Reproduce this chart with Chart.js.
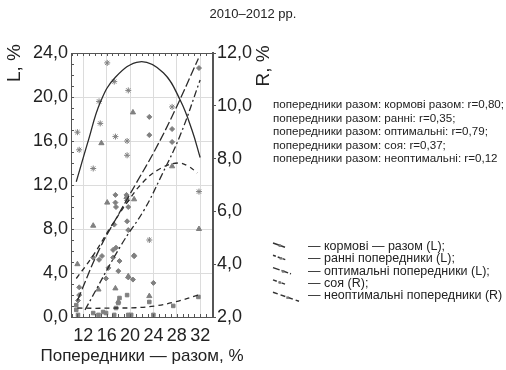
<!DOCTYPE html>
<html>
<head>
<meta charset="utf-8">
<script src="https://cdn.jsdelivr.net/npm/chart.js@4.4.1/dist/chart.umd.min.js"></script>
<style>
  body { margin: 0; width: 506px; height: 370px; position: relative; overflow: hidden; background: #fff;
         font-family: "Liberation Sans", Arial, sans-serif; color: #222; }
  #c { position: absolute; left: 0; top: 0; }
  #title { position: absolute; top: 6px; left: 0; width: 506px; text-align: center; font-size: 13px; }
  #notes { position: absolute; left: 273px; top: 97px; font-size: 11.6px; line-height: 13.5px; white-space: nowrap; }
  #legend { position: absolute; left: 308px; top: 240px; font-size: 12.5px; line-height: 12.3px; white-space: nowrap; }
</style>
</head>
<body>
<canvas id="c" width="506" height="370"></canvas>
<div id="title">2010–2012 рр.</div>
<div id="notes"></div>
<div id="legend"></div>
<script>
// Axis ticks
const xTicks = [12, 16, 20, 24, 28, 32];
const yLeftTicks = [0, 4, 8, 12, 16, 20, 24];
const yRightTicks = [2, 4, 6, 8, 10, 12];

// кормові — разом (L): points and fitted curve
const kormoviX = [11.0, 11.3, 13.7, 16.1, 14.7, 14.9, 17.3, 17.5, 19.7, 19.5, 19.5, 27.2, 31.8, 23.3];
const kormoviL = [16.8, 15.2, 13.5, 23.1, 19.6, 17.6, 21.4, 16.4, 20.6, 16.0, 14.7, 19.1, 11.4, 7.0];
const kormoviFitX = [10.8, 12.9, 14.9, 17.5, 21.7, 25.7, 28.6, 30.6, 32.0];
const kormoviFitL = [12.3, 16.1, 19.5, 21.8, 23.2, 22.2, 19.7, 17.0, 14.5];

// ранні попередники (L)
const ranniX = [15.1, 20.5, 27.2, 16.1, 13.7, 11.0, 14.6, 17.5, 19.7, 20.7, 19.4, 23.3, 31.8, 18.0];
const ranniL = [15.8, 18.6, 13.7, 10.4, 8.3, 4.8, 2.5, 2.6, 3.7, 10.7, 10.9, 1.9, 8.0, 1.4];
const ranniFitX = [10.8, 13.7, 16.6, 19.5, 22.3, 25.2, 28.2, 30.0, 31.5];
const ranniFitL = [3.5, 5.6, 8.1, 10.4, 12.3, 13.5, 14.0, 13.7, 13.1];

// оптимальні попередники (L)
const optX = [17.5, 17.5, 17.6, 19.4, 19.5, 19.7, 19.5, 17.3, 19.7, 17.6, 17.1, 13.7, 14.7, 17.1, 20.7, 15.9, 19.7, 20.5, 24.0, 11.3, 11.1];
const optL = [11.1, 10.4, 10.0, 11.1, 10.6, 10.0, 8.7, 8.4, 7.9, 6.3, 6.1, 5.4, 5.2, 5.4, 5.6, 3.5, 3.6, 3.4, 3.1, 2.7, 1.5];
const optFitX = [11.0, 14.7, 18.0, 21.1, 24.3, 27.7, 31.7];
const optFitL = [1.5, 6.1, 9.3, 12.2, 15.2, 18.8, 23.5];

// соя (R)
const soyaX = [27.2, 27.2, 31.8, 23.3, 23.3, 20.7, 11.3, 18.2, 18.0, 15.2, 16.3];
const soyaR = [9.12, 8.63, 11.43, 9.58, 8.89, 4.30, 2.83, 4.12, 3.74, 4.31, 3.86];
const soyaFitX = [12.3, 18.5, 22.4, 25.2, 28.6, 32.0];
const soyaFitR = [2.27, 4.73, 6.05, 7.27, 8.89, 10.98];

// неоптимальні попередники (R)
const neoptX = [10.8, 10.8, 11.1, 13.7, 14.6, 15.4, 15.9, 17.6, 18.0, 18.2, 17.3, 19.5, 19.7, 20.2, 23.3, 24.0, 27.4, 31.7];
const neoptR = [2.45, 2.27, 2.08, 2.15, 2.08, 2.19, 2.15, 2.34, 2.53, 2.72, 2.08, 2.83, 2.08, 2.08, 2.57, 2.08, 2.42, 2.76];
const neoptFitX = [11.0, 14.1, 17.5, 20.9, 24.3, 27.7, 31.7];
const neoptFitR = [2.34, 2.33, 2.34, 2.35, 2.42, 2.57, 2.83];

const notes = [
  'попередники разом: кормові разом: r=0,80;',
  'попередники разом: ранні: r=0,35;',
  'попередники разом: оптимальні: r=0,79;',
  'попередники разом: соя: r=0,37;',
  'попередники разом: неоптимальні: r=0,12'
];
const legendLabels = [
  '— кормові — разом (L);',
  '— ранні попередники (L);',
  '— оптимальні попередники (L);',
  '— соя (R);',
  '— неоптимальні попередники (R)'
];
const legendDash = [[], [3, 2], [7, 2], [4, 2, 1, 2], [5, 3]];
const legendLen = [12, 14, 18, 12, 26];

const zip = (xs, ys) => xs.map((x, i) => ({ x: x, y: ys[i] }));
const fmt = v => v.toFixed(1).replace('.', ',');
const FONT = '"Liberation Sans", Arial, sans-serif';
const lineCol = '#2b2b2b';
const markCol = '#808080';

function fitSet(xs, ys, axis, dash) {
  return {
    type: 'line', data: zip(xs, ys), yAxisID: axis, showLine: true,
    borderColor: lineCol, borderWidth: 1.3, borderDash: dash, pointRadius: 0,
    tension: 0.4, fill: false
  };
}
function pointSet(xs, ys, axis, style, r) {
  return {
    type: 'scatter', data: zip(xs, ys), yAxisID: axis, pointStyle: style,
    pointRadius: r, backgroundColor: markCol, borderColor: markCol, borderWidth: 1
  };
}

// Axis titles, top border, minor ticks and legend symbols
const decorPlugin = {
  id: 'decor',
  afterDraw(chart) {
    const ctx = chart.ctx;
    const a = chart.chartArea;
    const xs = chart.scales.x, yl = chart.scales.yL;
    ctx.save();
    ctx.strokeStyle = '#555';
    ctx.lineWidth = 1;
    ctx.beginPath();
    ctx.moveTo(a.left, a.top + 0.5); ctx.lineTo(a.right, a.top + 0.5);
    for (let v = 10; v <= 34; v += 1) {
      const px = Math.round(xs.getPixelForValue(v)) + 0.5;
      ctx.moveTo(px, a.top); ctx.lineTo(px, a.top + 3);
      ctx.moveTo(px, a.bottom); ctx.lineTo(px, a.bottom - 3);
    }
    for (let v = 1; v < 24; v += 1) {
      const py = Math.round(yl.getPixelForValue(v)) + 0.5;
      ctx.moveTo(a.left, py); ctx.lineTo(a.left + 3, py);
    }
    ctx.stroke();

    // legend symbols
    ctx.strokeStyle = '#333';
    ctx.lineWidth = 1.5;
    legendLen.forEach((len, i) => {
      const y0 = 243 + i * 12.3;
      ctx.setLineDash(legendDash[i]);
      ctx.beginPath();
      ctx.moveTo(273, y0); ctx.lineTo(273 + len, y0 + len * 0.35);
      ctx.stroke();
      ctx.fillStyle = '#777';
      ctx.fillRect(272 + len * 0.55, y0 + len * 0.2 - 1, 2.5, 2.5);
    });
    ctx.setLineDash([]);

    ctx.fillStyle = '#222';
    ctx.textAlign = 'center';
    ctx.textBaseline = 'middle';
    ctx.font = '19px ' + FONT;
    ctx.translate(15, 63); ctx.rotate(-Math.PI / 2); ctx.fillText('L, %', 0, 0);
    ctx.setTransform(1, 0, 0, 1, 0, 0);
    ctx.translate(264, 66); ctx.rotate(-Math.PI / 2); ctx.fillText('R, %', 0, 0);
    ctx.setTransform(1, 0, 0, 1, 0, 0);
    ctx.font = '17px ' + FONT;
    ctx.fillText('Попередники — разом, %', 142, 356);
    ctx.restore();
  }
};

new Chart(document.getElementById('c'), {
  data: {
    datasets: [
      fitSet(kormoviFitX, kormoviFitL, 'yL', []),
      fitSet(ranniFitX, ranniFitL, 'yL', [5, 4]),
      fitSet(optFitX, optFitL, 'yL', [9, 3]),
      fitSet(soyaFitX, soyaFitR, 'yR', [7, 3, 2, 3]),
      fitSet(neoptFitX, neoptFitR, 'yR', [5, 4]),
      pointSet(kormoviX, kormoviL, 'yL', 'star', 3),
      pointSet(ranniX, ranniL, 'yL', 'triangle', 3),
      pointSet(optX, optL, 'yL', 'rectRot', 2.5),
      pointSet(soyaX, soyaR, 'yR', 'rectRot', 2.5),
      pointSet(neoptX, neoptR, 'yR', 'rect', 2.5)
    ]
  },
  options: {
    responsive: false,
    animation: false,
    devicePixelRatio: 1,
    layout: { padding: { left: 0, top: 53, right: 233, bottom: 0 } },
    plugins: { legend: { display: false }, tooltip: { enabled: false } },
    scales: {
      x: {
        type: 'linear', min: 9.9, max: 34.2,
        afterBuildTicks: s => { s.ticks = xTicks.map(v => ({ value: v })); },
        afterFit: s => { s.height = 53; },
        grid: { color: '#dcdcdc', drawTicks: false },
        border: { color: '#555', width: 1 },
        ticks: { font: { family: FONT, size: 18 }, color: '#222', padding: 8, maxRotation: 0 }
      },
      yL: {
        type: 'linear', position: 'left', min: 0, max: 24,
        afterBuildTicks: s => { s.ticks = yLeftTicks.map(v => ({ value: v })); },
        afterFit: s => { s.width = 71; },
        grid: { color: '#dcdcdc', drawTicks: false },
        border: { color: '#555', width: 1 },
        ticks: { font: { family: FONT, size: 18 }, color: '#222', padding: 3, callback: v => fmt(v) }
      },
      yR: {
        type: 'linear', position: 'right', min: 2, max: 12,
        afterBuildTicks: s => { s.ticks = yRightTicks.map(v => ({ value: v })); },
        afterFit: s => { s.width = 60; },
        grid: { drawOnChartArea: false, drawTicks: true, tickLength: 3, color: '#555' },
        border: { color: '#555', width: 2 },
        ticks: { font: { family: FONT, size: 18 }, color: '#222', padding: 1, callback: v => fmt(v) }
      }
    }
  },
  plugins: [decorPlugin]
});

// Notes and legend text
document.getElementById('notes').innerHTML = notes.map(t => '<div>' + t + '</div>').join('');
document.getElementById('legend').innerHTML = legendLabels.map(t => '<div>' + t + '</div>').join('');
</script>
</body>
</html>
